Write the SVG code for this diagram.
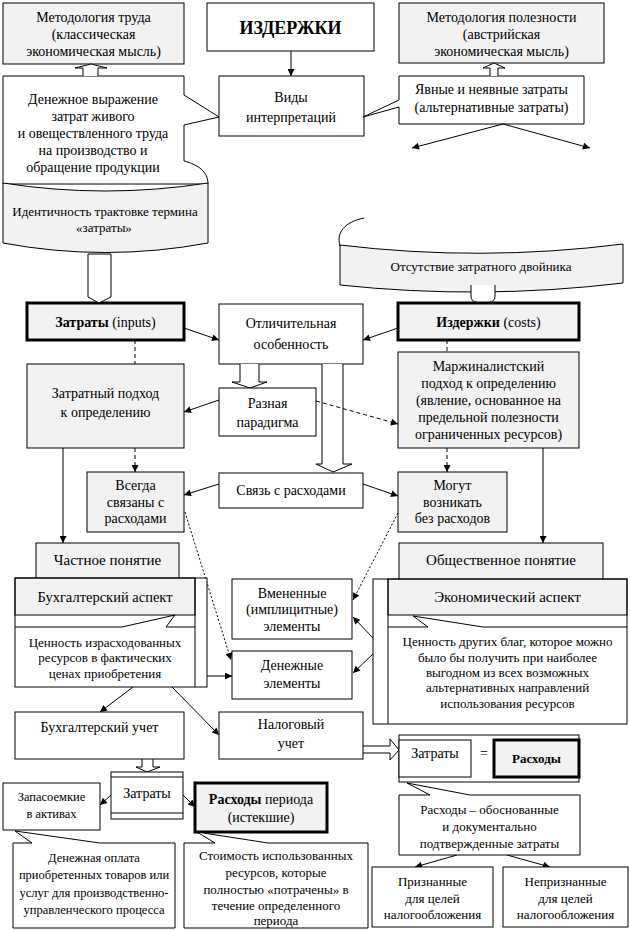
<svg xmlns="http://www.w3.org/2000/svg" width="630" height="930" viewBox="0 0 630 930" font-family="'Liberation Serif', 'DejaVu Serif', 'Times New Roman', serif">
<defs>
<style>
.w{fill:#fff;stroke:#000;stroke-width:1}
.g{fill:#f2f2f2;stroke:#000;stroke-width:1}
.tk{stroke-width:3}
.nf{fill:none;stroke:#000;stroke-width:1}
.hw{fill:#fff;stroke:#000;stroke-width:1}
.ar{marker-end:url(#ah)}
.ds{stroke-dasharray:4,3}
.dt{stroke-dasharray:2,2}
text{font-family:'Liberation Serif','DejaVu Serif','Times New Roman',serif;fill:#000;text-anchor:middle}
.f12{font-size:12.5px}
.f13{font-size:13px}
.f14{font-size:14px}
.f15{font-size:15px}
.bd{font-weight:bold}
</style>
<marker id="ah" viewBox="0 0 10 10" refX="10" refY="5" markerWidth="9" markerHeight="7" orient="auto" markerUnits="userSpaceOnUse"><path d="M0,0 L10,5 L0,10 z" fill="#000"/></marker>
</defs>
<rect width="630" height="930" fill="#fff"/>

<g id="n-metod-trud">
<rect class="g" x="3" y="3" width="181" height="61"/>
<text class="f14" x="93.5" y="22">Методология труда</text>
<text class="f14" x="93.5" y="39">(классическая</text>
<text class="f14" x="93.5" y="56">экономическая мысль)</text>
</g>

<g id="n-izderzhki">
<rect class="w" x="207" y="3" width="167" height="48"/>
<text class="bd" style="font-size:18px" x="290.5" y="34">ИЗДЕРЖКИ</text>
</g>

<g id="n-metod-polez">
<rect class="g" x="399" y="3" width="205" height="60"/>
<text class="f14" x="501.5" y="22">Методология полезности</text>
<text class="f14" x="501.5" y="39">(австрийская</text>
<text class="f14" x="501.5" y="56">экономическая мысль)</text>
</g>

<g id="n-vidy">
<rect class="w" x="219" y="76" width="145" height="60"/>
<text class="f14" x="291" y="102">Виды</text>
<text class="f14" x="291" y="122">интерпретаций</text>
</g>

<g id="n-yavnye">
<path class="w" d="M399,76 H584 V124 H399 V107 L363,117 L399,100 Z"/>
<text class="f14" x="491.5" y="94">Явные и неявные затраты</text>
<text class="f14" x="491.5" y="112">(альтернативные затраты)</text>
</g>

<g id="n-denezhnoe">
<path class="w" d="M3,76 H184 V95 L219,117 L184,125 V161 C199,165 208,172 208,184 L3,184 Z"/>
<text class="f14" x="93" y="104">Денежное выражение</text>
<text class="f14" x="93" y="121">затрат живого</text>
<text class="f14" x="93" y="138">и овеществленного труда</text>
<text class="f14" x="93" y="155">на производство и</text>
<text class="f14" x="93" y="172">обращение продукции</text>
</g>

<g id="n-identichnost">
<path class="g" d="M3,183 Q105,199 208,183 V243 Q105,262 3,243 Z"/>
<text class="f13" x="105" y="216">Идентичность трактовке термина</text>
<text class="f13" x="104" y="232">«затраты»</text>
</g>

<g id="n-otsutstvie">
<path class="g" d="M340,245 Q481,262 623,244 V283 Q481,300 340,285 Z"/>
<path class="nf" d="M340,246 C336,232 345,222 364,218"/>
<text class="f13" x="481" y="271">Отсутствие затратного двойника</text>
</g>

<g id="n-zatraty-inputs">
<rect class="g tk" x="27" y="303" width="157" height="37"/>
<text class="f14" x="105.5" y="327"><tspan class="bd">Затраты</tspan> (inputs)</text>
</g>

<g id="n-otlich">
<rect class="w" x="219" y="304" width="144" height="60"/>
<text class="f14" x="291" y="328">Отличительная</text>
<text class="f14" x="291" y="349">особенность</text>
</g>

<g id="n-izderzhki-costs">
<rect class="g tk" x="398" y="303" width="181" height="37"/>
<text class="f14" x="488.5" y="327"><tspan class="bd">Издержки</tspan> (costs)</text>
</g>

<g id="n-zatratny">
<rect class="g" x="27" y="364" width="157" height="84"/>
<text class="f14" x="105.5" y="398">Затратный подход</text>
<text class="f14" x="105.5" y="417">к определению</text>
</g>

<g id="n-marzh">
<rect class="g" x="398" y="352" width="181" height="96"/>
<text class="f14" x="488.5" y="371">Маржиналистский</text>
<text class="f14" x="488.5" y="388">подход к определению</text>
<text class="f14" x="488.5" y="405">(явление, основанное на</text>
<text class="f14" x="488.5" y="422">предельной полезности</text>
<text class="f14" x="488.5" y="439">ограниченных ресурсов)</text>
</g>

<g id="n-vsegda">
<rect class="g" x="87" y="472" width="97" height="60"/>
<text class="f14" x="135.5" y="490">Всегда</text>
<text class="f14" x="135.5" y="507">связаны с</text>
<text class="f14" x="135.5" y="523">расходами</text>
</g>

<g id="n-mogut">
<rect class="g" x="398" y="472" width="109" height="60"/>
<text class="f14" x="452.5" y="490">Могут</text>
<text class="f14" x="452.5" y="507">возникать</text>
<text class="f14" x="452.5" y="523">без расходов</text>
</g>

<g id="connectors">
<path class="nf ar" d="M291,51 V76"/>
<path class="hw" d="M83,76 V68 H75 L91,64 L107,68 H98 V76"/>
<path class="hw" d="M490,76 V68 H483 L494,63 L505,68 H498 V76"/>
<path class="nf ar" d="M503,124 L412,148"/>
<path class="nf ar" d="M503,124 L590,148"/>
<path class="hw" d="M88,254 V297 L99,303 L111,297 V254 Z"/>
<path class="hw" d="M471,285 V296 Q471,302 477,302 H489 Q495,302 495,296 V285"/>
<path class="nf ar" d="M184,328 L219,340"/>
<path class="nf ar" d="M398,328 L363,340"/>
<path class="nf ds" d="M135,340 V364"/>
<path class="nf ds" d="M447,340 V352"/>
<path class="hw" d="M240,364 V382 H232 L250,388 L267,382 H259 V364"/>
<path class="hw" d="M322,364 V464 H316 L333,472 L352,464 H343 V364"/>
<path class="nf ar" d="M219,400 L184,412"/>
<path class="nf ar ds" d="M316,401 L398,424"/>
<path class="nf ar ds" d="M135,448 V472"/>
<path class="nf ar ds" d="M447,448 V472"/>
<path class="nf ar" d="M219,484 L184,495"/>
<path class="nf ar" d="M363,484 L398,496"/>
<path class="nf ar" d="M63,448 V543"/>
<path class="nf ar" d="M543,448 V543"/>
<path class="nf ar dt" d="M185,512 L231,660"/>
<path class="nf ar dt" d="M398,513 L353,600"/>
<path class="nf ar" d="M373,638 L353,617"/>
<path class="nf ar" d="M373,654 L353,673"/>
<path class="nf ar" d="M207,676 H232"/>
<path class="nf ar" d="M133,687 L100,712"/>
<path class="nf ar" d="M172,687 L219,735"/>
<path class="hw" d="M363,746 H390 V739 L399,750 L390,760 V753 H363"/>
<path class="hw" d="M142,759 V767 H136 L147,772 L160,767 H153 V759"/>
<path class="nf ar" d="M111,795 L100,805"/>
<path class="nf ar" d="M183,795 L195,807"/>
<path class="nf ar" d="M457,855 L415,867"/>
<path class="nf ar" d="M507,855 L550,867"/>
</g>

<g id="n-svyaz">
<rect class="w" x="219" y="473" width="144" height="35"/>
<text class="f14" x="291" y="495">Связь с расходами</text>
</g>

<g id="n-raznaya">
<rect class="w" x="219" y="388" width="97" height="48"/>
<text class="f14" x="267.5" y="408">Разная</text>
<text class="f14" x="267.5" y="427">парадигма</text>
</g>

<g id="n-chastnoe">
<rect class="g" x="36" y="543" width="143" height="40"/>
<text class="f15" x="107.5" y="565">Частное понятие</text>
</g>

<g id="n-obshch">
<rect class="g" x="399" y="543" width="204" height="40"/>
<text class="f15" x="501" y="565">Общественное понятие</text>
</g>

<g id="n-buh-aspect">
<rect x="15" y="578" width="192" height="109" fill="#fff"/>
<rect class="g" x="15" y="578" width="180" height="37"/>
<path class="nf" d="M15,627 H122 L175,615 L166,627 H195"/>
<path class="nf" d="M195,578 V687"/>
<rect class="nf tk" x="15" y="578" width="192" height="109"/>
<text style="font-size:14.5px" x="105" y="602">Бухгалтерский аспект</text>
<text class="f13" x="105" y="647">Ценность израсходованных</text>
<text class="f13" x="105" y="662">ресурсов в фактических</text>
<text class="f13" x="105" y="678">ценах приобретения</text>
</g>

<g id="n-econ-aspect">
<rect x="373" y="579" width="254" height="145" fill="#fff"/>
<rect class="g" x="388" y="579" width="239" height="36"/>
<path class="nf" d="M388,627 H428 L413,616 L483,627 H627"/>
<path class="nf" d="M388,579 V724"/>
<rect class="nf tk" x="373" y="579" width="254" height="145"/>
<text class="f15" x="507.5" y="602">Экономический аспект</text>
<text class="f13" x="507.5" y="646">Ценность других благ, которое можно</text>
<text class="f13" x="507.5" y="662">было бы получить при наиболее</text>
<text class="f13" x="507.5" y="677">выгодном из всех возможных</text>
<text class="f13" x="507.5" y="692">альтернативных направлений</text>
<text class="f13" x="507.5" y="708">использования ресурсов</text>
</g>

<g id="n-vmenennye">
<rect class="w" x="232" y="579" width="120" height="60"/>
<text class="f14" x="292" y="598">Вмененные</text>
<text class="f14" x="292" y="614">(имплицитные)</text>
<text class="f14" x="292" y="631">элементы</text>
</g>

<g id="n-denezhnye">
<rect class="w" x="232" y="651" width="120" height="48"/>
<text class="f14" x="292" y="670">Денежные</text>
<text class="f14" x="292" y="688">элементы</text>
</g>

<g id="n-buh-uchet">
<rect class="w" x="15" y="712" width="169" height="47"/>
<text class="f14" x="99.5" y="732">Бухгалтерский учет</text>
</g>

<g id="n-nalog">
<rect class="w" x="219" y="712" width="144" height="47"/>
<text class="f14" x="291" y="729">Налоговый</text>
<text class="f14" x="291" y="748">учет</text>
</g>

<g id="n-zatr-rash">
<rect class="w" x="399" y="735" width="180" height="47"/>
<rect class="w" x="399" y="740" width="72" height="37"/>
<text class="f14" x="435" y="758">Затраты</text>
<text class="f14" x="484" y="758">=</text>
<rect class="g tk" x="494" y="740" width="85" height="37"/>
<text class="f13 bd" x="536.5" y="763">Расходы</text>
</g>

<g id="n-rashody-obosn">
<path class="w" d="M399,795 H430 L407,783 L470,795 H580 V855 H399 Z"/>
<text class="f13" x="489.5" y="814">Расходы – обоснованные</text>
<text class="f13" x="489.5" y="831">и документально</text>
<text class="f13" x="489.5" y="848">подтвержденные затраты</text>
</g>

<g id="n-priznannye">
<rect class="w" x="372" y="867" width="121" height="60"/>
<text class="f13" x="432.5" y="886">Признанные</text>
<text class="f13" x="432.5" y="903">для целей</text>
<text class="f13" x="432.5" y="919">налогообложения</text>
</g>

<g id="n-nepriznannye">
<rect class="w" x="503" y="867" width="125" height="60"/>
<text class="f13" x="565.5" y="886">Непризнанные</text>
<text class="f13" x="565.5" y="903">для целей</text>
<text class="f13" x="565.5" y="919">налогообложения</text>
</g>

<g id="n-zatraty-bottom">
<rect class="w" x="111" y="772" width="72" height="47"/>
<path class="nf" d="M111,777 H183 M111,813 H183"/>
<text class="f14" x="147" y="798">Затраты</text>
</g>

<g id="n-zapasoemkie">
<rect class="w" x="3" y="783" width="97" height="47"/>
<text class="f12" x="51.5" y="801">Запасоемкие</text>
<text class="f12" x="51.5" y="818">в активах</text>
</g>

<g id="n-rashody-perioda">
<rect class="g tk" x="195" y="783" width="132" height="49"/>
<text class="f14" x="261" y="804"><tspan class="bd">Расходы</tspan> периода</text>
<text class="f14" x="261" y="822">(истекшие)</text>
</g>

<g id="n-denezh-oplata">
<path class="w" d="M13,843 H32 L15,831 L100,843 H175 V928 H13 Z"/>
<text class="f12" x="94" y="862">Денежная оплата</text>
<text class="f12" x="94" y="879">приобретенных товаров или</text>
<text class="f12" x="94" y="897">услуг для производственно-</text>
<text class="f12" x="94" y="914">управленческого процесса</text>
</g>

<g id="n-stoimost">
<path class="w" d="M184,843 H215 L197,832 L268,843 H368 V928 H184 Z"/>
<text class="f13" x="276" y="860">Стоимость использованных</text>
<text class="f13" x="276" y="877">ресурсов, которые</text>
<text class="f13" x="276" y="894">полностью «потрачены» в</text>
<text class="f13" x="276" y="910">течение определенного</text>
<text class="f13" x="276" y="925">периода</text>
</g>
</svg>
